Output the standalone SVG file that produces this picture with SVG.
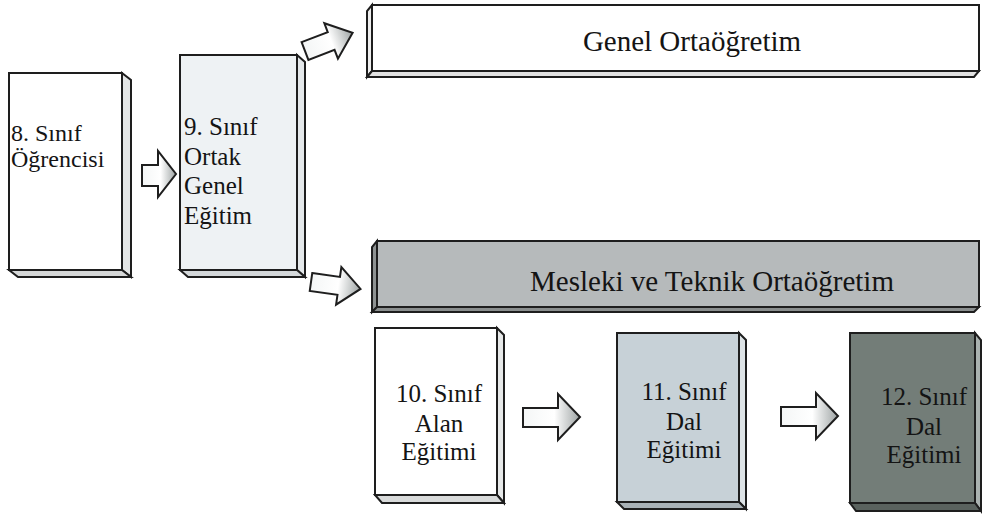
<svg xmlns="http://www.w3.org/2000/svg" width="982" height="515" viewBox="0 0 982 515">
<style>
.edge{stroke:#1e1e1e;stroke-width:2;stroke-linejoin:miter}
text{font-family:"Liberation Serif","Times New Roman",Tinos,"Noto Serif","DejaVu Serif",FreeSerif,serif;fill:#141414}
.bx{font-size:25px}
.bar{font-size:29px;text-anchor:middle}
.mid{text-anchor:middle}
.arrow{fill:url(#ag);stroke:#1e1e1e;stroke-width:2;stroke-linejoin:miter}
</style>
<defs>
<linearGradient id="ag" x1="0" y1="0" x2="1" y2="0">
<stop offset="0" stop-color="#f4f6f6"/>
<stop offset="0.55" stop-color="#ffffff"/>
<stop offset="1" stop-color="#9ea4a4"/>
</linearGradient>
</defs>
<rect width="982" height="515" fill="#ffffff"/>

<g id="sinif8">
<polygon class="edge" points="122,73 131,80 131,277 122,270" fill="#e4e6e6"/>
<polygon class="edge" points="9,270 122,270 131,277 18,277" fill="#d6d8d8"/>
<rect class="edge" x="9" y="73" width="113" height="197" fill="#ffffff"/>
<text font-size="24" x="11" y="141">8. Sınıf</text>
<text font-size="24" x="11" y="167">Öğrencisi</text>
</g>

<g id="sinif9">
<polygon class="edge" points="297,55 305,62 305,277 297,270" fill="#e4e8ea"/>
<polygon class="edge" points="180,270 297,270 305,277 188,277" fill="#d4d8da"/>
<rect class="edge" x="180" y="55" width="117" height="215" fill="#eef2f4"/>
<text class="bx" x="184" y="135">9. Sınıf</text>
<text class="bx" x="184" y="165">Ortak</text>
<text class="bx" x="184" y="194">Genel</text>
<text class="bx" x="184" y="224">Eğitim</text>
</g>

<g id="genel">
<polygon class="edge" points="372,5 367,11 367,77 372,71" fill="#eeeeee"/>
<polygon class="edge" points="372,71 979,71 974,77 367,77" fill="#e2e2e2"/>
<rect class="edge" x="372" y="5" width="607" height="66" fill="#ffffff"/>
<text class="bar" x="692" y="51">Genel Ortaöğretim</text>
</g>

<g id="mesleki">
<polygon class="edge" points="377,241 372,247 372,312 377,307" fill="#8e9292"/>
<polygon class="edge" points="377,307 979,307 974,312 372,312" fill="#8a8e8e"/>
<rect class="edge" x="377" y="241" width="602" height="66" fill="#b6babb"/>
<text class="bar" x="712" y="291">Mesleki ve Teknik Ortaöğretim</text>
</g>

<g id="sinif10">
<polygon class="edge" points="497,328 504,335 504,503 497,495" fill="#e6e8e8"/>
<polygon class="edge" points="375,495 497,495 504,503 382,503" fill="#d8dada"/>
<rect class="edge" x="375" y="328" width="122" height="167" fill="#ffffff"/>
<text class="bx mid" x="439" y="402">10. Sınıf</text>
<text class="bx mid" x="439" y="432">Alan</text>
<text class="bx mid" x="439" y="460">Eğitimi</text>
</g>

<g id="sinif11">
<polygon class="edge" points="739,333 746,340 746,509 739,502" fill="#dde3e6"/>
<polygon class="edge" points="617,502 739,502 746,509 624,509" fill="#a9b2b7"/>
<rect class="edge" x="617" y="333" width="122" height="169" fill="#c7d1d7"/>
<text class="bx mid" x="684" y="400">11. Sınıf</text>
<text class="bx mid" x="684" y="430">Dal</text>
<text class="bx mid" x="684" y="458">Eğitimi</text>
</g>

<g id="sinif12">
<polygon class="edge" points="975,333 981,340 981,511 975,503" fill="#aab2b0"/>
<polygon class="edge" points="850,503 975,503 981,511 856,511" fill="#5a625e"/>
<rect class="edge" x="850" y="333" width="125" height="170" fill="#737d78"/>
<text class="bx mid" x="924" y="405">12. Sınıf</text>
<text class="bx mid" x="924" y="435">Dal</text>
<text class="bx mid" x="924" y="463">Eğitimi</text>
</g>

<g id="connectors">
<path class="arrow" d="M142,165 H158 V151 L176,174 L158,197 V186 H142 Z"/>
<g transform="translate(305,51) rotate(-21)">
<path class="arrow" d="M0,-9.5 H28 V-19 L51,0 L28,19 V9.5 H0 Z"/>
</g>
<g transform="translate(311,282) rotate(8)">
<path class="arrow" d="M0,-9 H28 V-19 L50,0 L28,19 V9 H0 Z"/>
</g>
<path class="arrow" d="M523,408 H558 V394 L580,417 L558,440 V427 H523 Z"/>
<path class="arrow" d="M781,407 H816 V393 L838,416 L816,439 V426 H781 Z"/>
</g>
</svg>
